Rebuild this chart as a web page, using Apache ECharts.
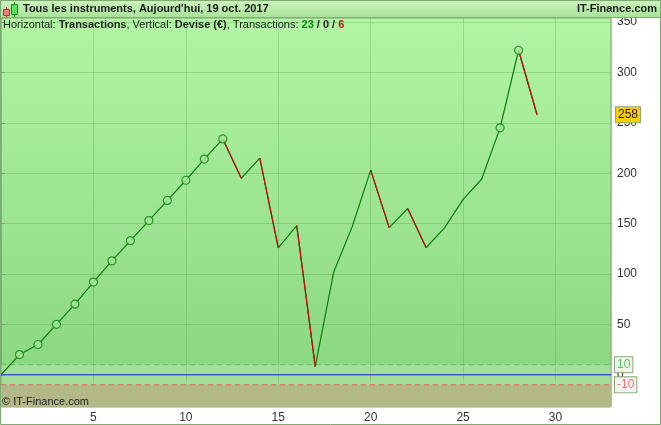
<!DOCTYPE html>
<html><head><meta charset="utf-8">
<script src="https://cdn.jsdelivr.net/npm/echarts@6/dist/echarts.min.js"></script>
<style>html,body{margin:0;padding:0;background:#fff}#c{width:661px;height:425px}</style>
</head><body><div id="c"></div>
<script>
const txValues = [0,20,30,50,70,92,113,133,153,173,193,214,234,195,215,126,148,8,102,147,203,146,165,126,146,174,194,245,322,258];
const markedTx = [1,2,3,4,5,6,7,8,9,10,11,12,27,28];
const yTicks = [0,50,100,150,200,250,300,350];
const lastValue = 258;
const upperBand = 10;
const lowerBand = -10;
const xMax = 33;
const yMin = -32;
const yMax = 354;
const titleText = "Tous les instruments, Aujourd'hui, 19 oct. 2017";
const siteText = "IT-Finance.com";
const copyText = "© IT-Finance.com";

const all = txValues.map((v,i)=>[i,v]);
const down = [];
txValues.forEach((v,i)=>{
  if(i>0 && v<txValues[i-1]){
    down.push([i-1,txValues[i-1]],[i,v],[i,null]);
  }
});
const font = '"Liberation Sans",Arial,sans-serif';
const hline = (name,v,lineStyle,z,label)=>({
  type:'line',name,data:[[0,v],[xMax,v]],symbol:'none',z,silent:true,lineStyle,
  endLabel:label||{show:false}
});
const badgeLabel = (v,bg,col,dist)=>({
  show:true,position:'right',distance:dist,formatter:String(v),
  backgroundColor:bg,color:col,borderColor:'#8aa878',borderWidth:1,
  padding:[2,2,1,2],fontSize:12,fontFamily:font
});
const chart = echarts.init(document.getElementById('c'),null,{renderer:'canvas'});
chart.setOption({
  animation:false,
  backgroundColor:'#fff',
  textStyle:{fontFamily:font},
  grid:{left:1,right:50,top:18,bottom:18,show:true,
    borderColor:'#8aa878',borderWidth:1,
    backgroundColor:new echarts.graphic.LinearGradient(0,0,0,1,[{offset:0,color:'#b1f5a5'},{offset:1,color:'#88d47e'}])},
  xAxis:{type:'value',min:0,max:xMax,interval:5,
    axisLine:{show:false},
    axisTick:{show:true,length:4,lineStyle:{color:'#7fa070'}},
    axisLabel:{color:'#333',fontSize:12,margin:5,fontFamily:font,showMinLabel:false,showMaxLabel:false},
    splitLine:{show:true,lineStyle:{color:'rgba(40,120,40,0.2)',width:1}}},
  yAxis:{type:'value',position:'right',min:yMin,max:yMax,
    axisLine:{show:false},
    axisTick:{show:true,length:4,customValues:yTicks,lineStyle:{color:'#7fa070'}},
    axisLabel:{color:'#333',fontSize:12,margin:6,fontFamily:font,customValues:yTicks},
    splitLine:{show:true,lineStyle:{color:'rgba(40,120,40,0.2)',width:1}}},
  series:[
    {type:'line',name:'all',data:all,symbol:'none',z:5,
     lineStyle:{color:'#0a7d0a',width:1.2},
     markArea:{silent:true,data:[
       [{yAxis:upperBand,itemStyle:{color:'rgba(255,255,255,0.2)'}},{yAxis:lowerBand}],
       [{yAxis:lowerBand,itemStyle:{color:'#b3b887'}},{yAxis:yMin}]
     ]}},
    hline('zero',0,{color:'#2222ee',width:1.2},3),
    hline('upper',upperBand,{color:'#55cc55',type:[5,4],width:1},3,badgeLabel(upperBand,'#f2f2f2','#55cc55',4)),
    hline('lower',lowerBand,{color:'#ee5566',type:[5,4],width:1},3,badgeLabel(lowerBand,'#f2f2f2','#ee7777',4)),
    hline('last',lastValue,{color:'rgba(0,0,0,0)',width:1},3,badgeLabel(lastValue,'#ffcc00','#222',5)),
    {type:'line',name:'down',data:down,symbol:'none',z:6,connectNulls:false,
     lineStyle:{color:'#cc0010',width:1.2}},
    {type:'scatter',name:'marked',z:7,symbol:'circle',symbolSize:8,
     data:markedTx.map(i=>[i,txValues[i]]),
     itemStyle:{color:'#a9ee9d',borderColor:'#0a7d0a',borderWidth:1.2}}
  ],
  graphic:[
    {type:'rect',z:100,shape:{x:0.5,y:0.5,width:660,height:17},
     style:{fill:new echarts.graphic.LinearGradient(0,0,0,1,[{offset:0,color:'#cdf3bd'},{offset:1,color:'#a6e398'}]),stroke:'#7fab72',lineWidth:1}},
    {type:'rect',z:100,shape:{x:0.5,y:0.5,width:660,height:424},style:{fill:'none',stroke:'#7fab72',lineWidth:1}},
    {type:'line',z:101,shape:{x1:6.5,y1:7,x2:6.5,y2:18},style:{stroke:'#c03030',lineWidth:1}},
    {type:'rect',z:102,shape:{x:3.5,y:9.5,width:6,height:6},style:{fill:'#f08080',stroke:'#c03030',lineWidth:1}},
    {type:'line',z:101,shape:{x1:14.5,y1:2,x2:14.5,y2:17},style:{stroke:'#109010',lineWidth:1}},
    {type:'rect',z:102,shape:{x:11.5,y:4.5,width:6,height:10},style:{fill:'#60e060',stroke:'#109010',lineWidth:1}},
    {type:'text',z:103,style:{x:23,y:3,text:titleText,font:'bold 11px '+font,fill:'#1a1a1a'}},
    {type:'text',z:103,style:{x:657,y:3,text:siteText,align:'right',font:'bold 11px '+font,fill:'#1a1a1a'}},
    {type:'text',z:103,style:{x:3,y:19,font:'11px '+font,fill:'#222',
      text:'{n|Horizontal: }{b|Transactions}{n|, Vertical: }{b|Devise (€)}{n|, Transactions: }{g|23}{b| / 0 / }{r|6}',
      rich:{n:{font:'11px '+font,fill:'#222'},b:{font:'bold 11px '+font,fill:'#222'},
            g:{font:'bold 11px '+font,fill:'#0a8a0a'},r:{font:'bold 11px '+font,fill:'#cc1010'}}}},
    {type:'text',z:103,style:{x:2,y:396,text:copyText,font:'11px '+font,fill:'#222'}}
  ]
});
</script></body></html>
